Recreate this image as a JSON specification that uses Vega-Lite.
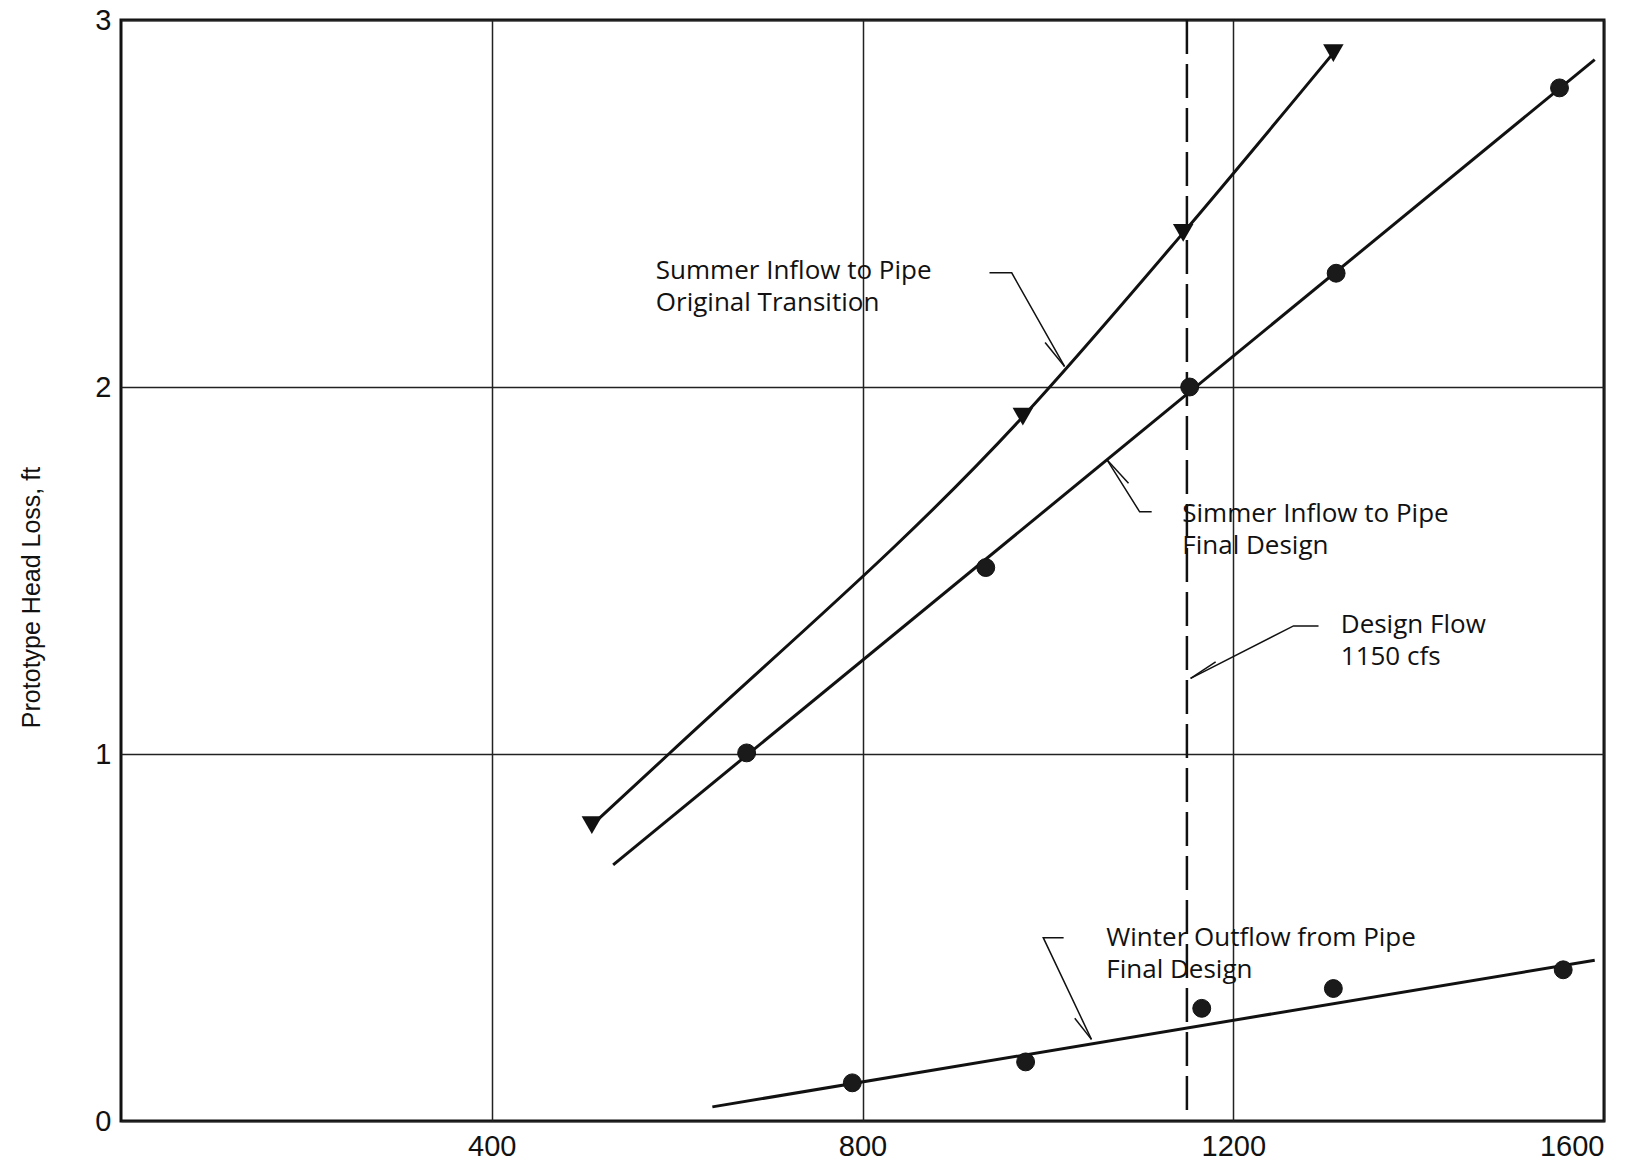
{
  "$schema": "https://vega.github.io/schema/vega-lite/v6.json",
  "width": 1483,
  "height": 1101,
  "autosize": "none",
  "padding": {"left": 121, "top": 20, "right": 38, "bottom": 46},
  "background": "white",
  "config": {
    "view": {"stroke": "#111", "strokeWidth": 3},
    "axis": {
      "labelFont": "Liberation Sans",
      "labelFontSize": 29,
      "labelColor": "#111",
      "titleFont": "Liberation Sans",
      "titleFontSize": 25,
      "titleFontWeight": "normal",
      "titleColor": "#111",
      "domain": false,
      "ticks": false,
      "gridColor": "#222",
      "gridWidth": 1.5,
      "gridOpacity": 1
    }
  },
  "datasets": {
    "points": [
      {"series": "Summer Original", "flow": 508, "loss": 0.806},
      {"series": "Summer Original", "flow": 973, "loss": 1.919},
      {"series": "Summer Original", "flow": 1146, "loss": 2.42},
      {"series": "Summer Original", "flow": 1308, "loss": 2.91},
      {"series": "Summer Final", "flow": 675, "loss": 1.003},
      {"series": "Summer Final", "flow": 933, "loss": 1.508},
      {"series": "Summer Final", "flow": 1153, "loss": 2.0},
      {"series": "Summer Final", "flow": 1311, "loss": 2.31},
      {"series": "Summer Final", "flow": 1552, "loss": 2.815},
      {"series": "Winter Final", "flow": 789, "loss": 0.104},
      {"series": "Winter Final", "flow": 976, "loss": 0.161},
      {"series": "Winter Final", "flow": 1166, "loss": 0.307},
      {"series": "Winter Final", "flow": 1308, "loss": 0.361},
      {"series": "Winter Final", "flow": 1556, "loss": 0.412}
    ],
    "curves": [
      {"series": "Summer Original", "flow": 508, "loss": 0.806},
      {"series": "Summer Original", "flow": 591, "loss": 1.0},
      {"series": "Summer Original", "flow": 973, "loss": 1.919},
      {"series": "Summer Original", "flow": 1146, "loss": 2.42},
      {"series": "Summer Original", "flow": 1308, "loss": 2.91},
      {"series": "Summer Final", "flow": 531, "loss": 0.698},
      {"series": "Summer Final", "flow": 1590, "loss": 2.892},
      {"series": "Winter Final", "flow": 638, "loss": 0.0385},
      {"series": "Winter Final", "flow": 1590, "loss": 0.438}
    ],
    "leaders": [
      {"id": "a1", "ord": 1, "flow": 937, "loss": 2.311},
      {"id": "a1", "ord": 2, "flow": 961, "loss": 2.311},
      {"id": "a1", "ord": 3, "flow": 1018, "loss": 2.056},
      {"id": "a1b", "ord": 1, "flow": 1018, "loss": 2.056},
      {"id": "a1b", "ord": 2, "flow": 997, "loss": 2.121},
      {"id": "a2", "ord": 1, "flow": 1112, "loss": 1.66},
      {"id": "a2", "ord": 2, "flow": 1099, "loss": 1.66},
      {"id": "a2", "ord": 3, "flow": 1064, "loss": 1.801},
      {"id": "a2b", "ord": 1, "flow": 1064, "loss": 1.801},
      {"id": "a2b", "ord": 2, "flow": 1087, "loss": 1.738},
      {"id": "a3", "ord": 1, "flow": 1292, "loss": 1.349},
      {"id": "a3", "ord": 2, "flow": 1265, "loss": 1.349},
      {"id": "a3", "ord": 3, "flow": 1154, "loss": 1.206},
      {"id": "a3b", "ord": 1, "flow": 1154, "loss": 1.206},
      {"id": "a3b", "ord": 2, "flow": 1181, "loss": 1.251},
      {"id": "a4", "ord": 1, "flow": 1017, "loss": 0.4996},
      {"id": "a4", "ord": 2, "flow": 995, "loss": 0.4996},
      {"id": "a4", "ord": 3, "flow": 1047, "loss": 0.2225},
      {"id": "a4b", "ord": 1, "flow": 1047, "loss": 0.2225},
      {"id": "a4b", "ord": 2, "flow": 1029, "loss": 0.2799}
    ],
    "labels": [
      {"text": "Summer Inflow to Pipe\nOriginal Transition", "flow": 577, "loss": 2.315},
      {"text": "Simmer Inflow to Pipe\nFinal Design", "flow": 1145, "loss": 1.654},
      {"text": "Design Flow\n1150 cfs", "flow": 1316, "loss": 1.351},
      {"text": "Winter Outflow from Pipe\nFinal Design", "flow": 1063, "loss": 0.498}
    ],
    "design": [
      {"flow": 1150, "low": 0.03, "high": 3}
    ]
  },
  "layer": [
    {
      "data": {"name": "design"},
      "mark": {"type": "rule", "color": "#111", "strokeWidth": 2.5, "strokeDash": [34, 10]},
      "encoding": {
        "x": {"field": "flow", "type": "quantitative", "scale": {"domain": [0, 1600], "nice": false},
          "axis": {"values": [400, 800, 1200, 1600], "format": "d", "grid": true, "title": null, "labelPadding": 11},
          "title": null},
        "y": {"field": "low", "type": "quantitative", "scale": {"domain": [0, 3], "nice": false},
          "axis": {"values": [0, 1, 2, 3], "format": "d", "labelPadding": 10, "title": "Prototype Head Loss, ft", "titleX": -90, "titleY": 577, "titleAngle": -90, "titleAlign": "center", "titleBaseline": "middle"}},
        "y2": {"field": "high"}
      }
    },
    {
      "data": {"name": "curves"},
      "mark": {"type": "line", "color": "#111", "strokeWidth": 3, "interpolate": "monotone"},
      "encoding": {
        "x": {"field": "flow", "type": "quantitative"},
        "y": {"field": "loss", "type": "quantitative"},
        "detail": {"field": "series"}
      }
    },
    {
      "data": {"name": "leaders"},
      "mark": {"type": "line", "color": "#111", "strokeWidth": 1.5},
      "encoding": {
        "x": {"field": "flow", "type": "quantitative"},
        "y": {"field": "loss", "type": "quantitative"},
        "detail": {"field": "id"},
        "order": {"field": "ord"}
      }
    },
    {
      "data": {"name": "points"},
      "transform": [{"filter": "datum.series === 'Summer Original'"}],
      "mark": {"type": "point", "shape": "triangle-down", "filled": true, "color": "#111", "size": 420, "opacity": 1},
      "encoding": {
        "x": {"field": "flow", "type": "quantitative"},
        "y": {"field": "loss", "type": "quantitative"}
      }
    },
    {
      "data": {"name": "points"},
      "transform": [{"filter": "datum.series !== 'Summer Original'"}],
      "mark": {"type": "circle", "color": "#1a1a1a", "size": 320, "opacity": 1, "stroke": "#111", "strokeWidth": 1},
      "encoding": {
        "x": {"field": "flow", "type": "quantitative"},
        "y": {"field": "loss", "type": "quantitative"}
      }
    },
    {
      "data": {"name": "labels"},
      "mark": {"type": "text", "align": "left", "baseline": "middle", "font": "Open Sans", "fontSize": 26, "lineBreak": "\n", "lineHeight": 32, "color": "#111"},
      "encoding": {
        "x": {"field": "flow", "type": "quantitative"},
        "y": {"field": "loss", "type": "quantitative"},
        "text": {"field": "text"}
      }
    }
  ]
}
